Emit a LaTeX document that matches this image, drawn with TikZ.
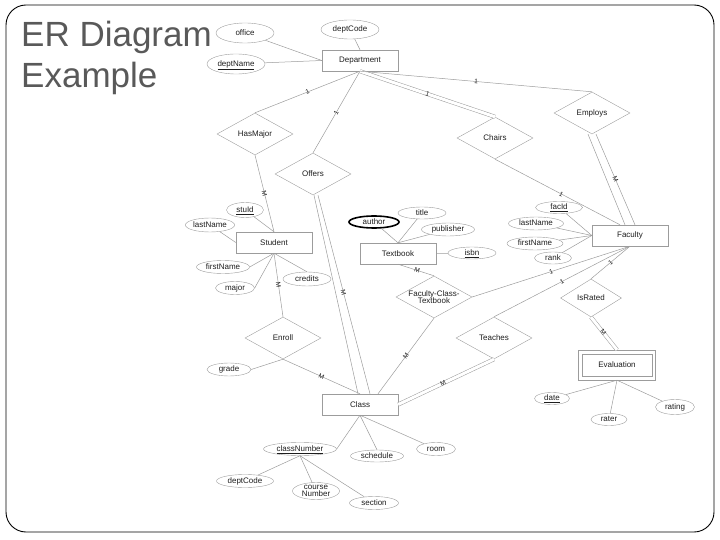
\documentclass[tikz,border=0pt]{standalone}
\usepackage{fontspec}
\setmainfont{Liberation Sans}
\usetikzlibrary{shapes.geometric}

\definecolor{linegray}{HTML}{9C9C9C}
\definecolor{inkgray}{HTML}{1E1E1E}
\definecolor{titlegray}{HTML}{595959}

\newcommand\erfont{\fontsize{8}{7.7}\selectfont}

\tikzset{
  entity/.style={draw=linegray, rectangle, minimum width=76pt, minimum height=21pt,
    inner sep=1pt, font=\erfont, text=inkgray},
  weak/.style={entity, minimum width=77pt, minimum height=30pt},
  relation/.style={draw=linegray, diamond, aspect=1.8, minimum width=76pt,
    minimum height=42pt, inner sep=0pt, font=\erfont, text=inkgray},
  attr/.style={draw=linegray, ellipse, inner sep=0.5pt, text height=6pt,
    text depth=1.5pt, font=\erfont, text=inkgray},
  link/.style={draw=linegray, line width=0.5pt},
  twin/.style={double=white, double distance=3pt},
  card/.style={sloped, inner sep=0pt, font=\fontsize{6.5}{6.5}\selectfont, text=inkgray},
  titletext/.style={font=\fontsize{35}{41}\selectfont, text=titlegray, inner sep=0pt}
}

\begin{document}
\begin{tikzpicture}[x=1pt, y=-1pt]
  \useasboundingbox (0,0) rectangle (720,540);
  \draw[black, line width=0.9pt, rounded corners=20pt] (6,5) rectangle (714,532);

  \node[titletext, anchor=base west] (title1) at (21,47) {ER Diagram};
  \node[titletext, anchor=base west] (title2) at (21,88) {Example};

    %%entities
    \node[entity] (dept) at (360,60.5) {Department};
    \node[entity] (student) at (274,242.5) {Student};
    \node[entity] (textbook) at (398,253.5) {Textbook};
    \node[entity] (faculty) at (630,235.5) {Faculty};
    \node[entity] (class) at (360,404.5) {Class};
    \node[weak] (eval) at (617,365) {Evaluation};
      \draw[linegray]([xshift=4pt, yshift=4pt]eval.south west) rectangle ([xshift=-4pt, yshift=-4pt]eval.north east);

    %%relationships
    \node[relation] (hasMajor) at (255,134) {HasMajor};
    \node[relation] (offers) at (313,174) {Offers};
    \node[relation] (chairs) at (495,138) {Chairs};
    \node[relation] (employs) at (592,113) {Employs};
    \node[relation, align=center] (fct) at (434,297) {Faculty-Class-\\Textbook};
    \node[relation, minimum width=61pt, minimum height=38pt] (isRated) at (591,298) {IsRated};
    \node[relation] (enroll) at (283,338) {Enroll};
    \node[relation] (teaches) at (494,338) {Teaches};

    %%attributes department
    \node[attr, minimum width=58pt, minimum height=20pt] (office) at (245,33) {office};
    \node[attr, minimum width=58pt, minimum height=19pt] (deptCode) at (350,29.5) {deptCode};
    \node[attr, minimum width=58pt, minimum height=20pt] (deptName) at (236,64) {\underline{deptName}};

    %%attributes student
    \node[attr, minimum width=37pt, minimum height=15pt] (stuId) at (245,210) {\underline{stuId}};
    \node[attr, minimum width=47pt, minimum height=14pt] (lastNameS) at (210,225) {lastName};
    \node[attr, minimum width=53pt, minimum height=13pt] (firstNameS) at (223,267) {firstName};
    \node[attr, minimum width=39pt, minimum height=13pt] (major) at (235,288) {major};
    \node[attr, minimum width=48pt, minimum height=14pt] (credits) at (307,279) {credits};

    %%attributes textbook
    \node[attr, draw=black, line width=1.6pt, minimum width=50pt, minimum height=12pt] (author) at (374,222) {author};
    \node[attr, minimum width=48pt, minimum height=12pt] (title) at (422,213) {title};
    \node[attr, minimum width=53pt, minimum height=13pt] (publisher) at (448,229.5) {publisher};
    \node[attr, minimum width=48pt, minimum height=12pt] (isbn) at (472,253) {\underline{isbn}};

    %%attributes faculty
    \node[attr, minimum width=47pt, minimum height=12pt] (facId) at (559,207.5) {\underline{facId}};
    \node[attr, minimum width=55pt, minimum height=13pt] (lastNameF) at (536,223.5) {lastName};
    \node[attr, minimum width=56pt, minimum height=13pt] (firstNameF) at (535,243.5) {firstName};
    \node[attr, minimum width=37pt, minimum height=11pt] (rank) at (553,258) {rank};

    %%attributes enroll, evaluation
    \node[attr, minimum width=44pt, minimum height=13pt] (grade) at (229,369.5) {grade};
    \node[attr, minimum width=35pt, minimum height=12pt] (date) at (552,398.5) {\underline{date}};
    \node[attr, minimum width=36pt, minimum height=12pt] (rater) at (609,419.5) {rater};
    \node[attr, minimum width=39pt, minimum height=15pt] (rating) at (675,407) {rating};

    %%attributes class
    \node[attr, minimum width=73pt, minimum height=13pt] (classNumber) at (300,449) {\underline{classNumber}};
    \node[attr, minimum width=53pt, minimum height=12pt] (schedule) at (377,456) {schedule};
    \node[attr, minimum width=39pt, minimum height=13pt] (room) at (436,449) {room};
    \node[attr, minimum width=57pt, minimum height=13pt] (deptCode2) at (245,481) {deptCode};
    \node[attr, minimum width=47pt, minimum height=17pt,
      label={[font=\fontsize{8}{6.6}\selectfont, text=inkgray, align=center, inner sep=0pt]center:{course\\Number}}]
      (courseNumber) at (316,491) {};
    \node[attr, minimum width=49pt, minimum height=13pt] (section) at (374,503) {section};

    %%links department
    \draw[link](office) to (dept.west);
    \draw[link](deptName) to (dept.west);
    \draw[link](deptCode) to (dept.north);
    \draw[link](dept.south) to node[card] {1} (hasMajor.north);
    \draw[link](dept.south) to node[card, pos=.51] {1} (offers.north);
    \draw[link, twin](dept.south) to node[card] {1} (chairs.north);
    \draw[link](dept.south) to node[card] {1} (employs.north);

    %%links student
    \draw[link](hasMajor.south) to node[card] {M} (student.north);
    \draw[link](stuId) to (student.north);
    \draw[link](lastNameS) to (student.west);
    \draw[link](student.south) to (firstNameS.east);
    \draw[link](student.south) to (major.east);
    \draw[link](student.south) to (credits.north);
    \draw[link](student.south) to node[card] {M} (enroll.north);
    \draw[link](grade.east) to (enroll.south);
    \draw[link](enroll.south) to node[card] {M} (class.north);

    %%offers, two lines
    \draw[link]([xshift=1pt]offers.south) to ([xshift=-2pt]class.north);
    \draw[link]([xshift=5pt]offers.south) to node[card, pos=.49] {M} ([xshift=10pt]class.north);

    %%links textbook
    \draw[link](author) to (textbook.north);
    \draw[link](title) to (textbook.north);
    \draw[link](publisher) to (textbook.north);
    \draw[link](isbn) to (textbook.east);
    \draw[link](textbook.south) to node[card, pos=.53] {M} (fct.north);
    \draw[link](fct.east) to node[card] {1} (faculty.south);
    \draw[link](fct.south) to node[card] {M} ([xshift=18pt]class.north);

    %%links faculty
    \draw[link](facId) to (faculty.west);
    \draw[link](lastNameF) to (faculty.west);
    \draw[link](firstNameF) to (faculty.west);
    \draw[link](rank) to (faculty.west);
    \draw[link](chairs.south) to node[card, pos=.53] {1} ([xshift=-10pt]faculty.north);
    \draw[link]([xshift=-4pt]employs.south) to ([xshift=-5pt]faculty.north);
    \draw[link]([xshift=4pt]employs.south) to node[card] {M} ([xshift=5pt]faculty.north);
    \draw[link](faculty.south) to node[card] {1} (teaches.north);
    \draw[link, twin](teaches.south) to node[card, pos=.53] {M} (class.east);
    \draw[link](faculty.south) to node[card] {1} (isRated.north);
    \draw[link, twin](isRated.south) to node[card, pos=.47] {M} (eval.north);

    %%links evaluation
    \draw[link](eval.south) to (date);
    \draw[link](eval.south) to (rater);
    \draw[link](eval.south) to (rating);

    %%links class
    \draw[link](class.south) to (classNumber.east);
    \draw[link](class.south) to (schedule.north);
    \draw[link](class.south) to (room);
    \draw[link](classNumber.south) to (deptCode2);
    \draw[link](classNumber.south) to (courseNumber);
    \draw[link](classNumber.south) to (section);

\end{tikzpicture}
\end{document}
